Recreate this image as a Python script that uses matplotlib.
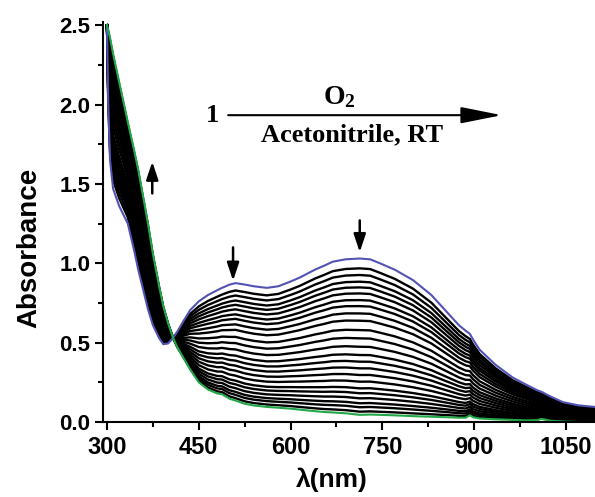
import numpy as np
import matplotlib
matplotlib.use("Agg")
import matplotlib.pyplot as plt
from matplotlib.ticker import MultipleLocator

# wavelength grid (nm) and the two end spectra
wavelengths = [300, 302, 305, 310, 320, 334, 345, 351, 360, 367, 375, 385, 392,
               400, 408, 415, 424, 436, 450, 465, 480, 488, 500, 510, 525, 540,
               561, 580, 600, 615, 640, 655, 669, 690, 713, 730, 746, 770, 800,
               830, 856, 875, 886, 893, 898, 909, 935, 963, 985, 1003, 1010,
               1025, 1045, 1070, 1097]

start_abs = [2.50, 2.00, 1.65, 1.47, 1.36, 1.25, 1.07, 0.96, 0.82, 0.71, 0.61,
             0.53, 0.49, 0.495, 0.53, 0.57, 0.63, 0.705, 0.76, 0.80, 0.83,
             0.845, 0.865, 0.875, 0.866, 0.855, 0.845, 0.855, 0.885, 0.91,
             0.96, 0.985, 1.01, 1.025, 1.03, 1.025, 1.00, 0.96, 0.894, 0.80,
             0.69, 0.61, 0.575, 0.555, 0.52, 0.455, 0.36, 0.28, 0.235, 0.20,
             0.19, 0.16, 0.125, 0.105, 0.095]

final_abs = [2.50, 2.47, 2.42, 2.32, 2.14, 1.89, 1.70, 1.59, 1.40, 1.25, 1.06,
             0.86, 0.73, 0.62, 0.53, 0.47, 0.41, 0.33, 0.25, 0.205, 0.18,
             0.175, 0.147, 0.135, 0.115, 0.104, 0.095, 0.09, 0.084, 0.078,
             0.068, 0.063, 0.06, 0.055, 0.045, 0.047, 0.045, 0.042, 0.037,
             0.033, 0.03, 0.027, 0.027, 0.042, 0.03, 0.022, 0.017, 0.013,
             0.01, 0.012, 0.02, 0.008, 0.003, 0.0, 0.0]

# absorbance of each intermediate trace at 713 nm, top to bottom
trace_713 = [0.968, 0.926, 0.884, 0.848, 0.810, 0.768, 0.730, 0.684, 0.638,
             0.579, 0.527, 0.474, 0.422, 0.380, 0.338, 0.296, 0.254, 0.212,
             0.181, 0.149, 0.118, 0.093, 0.065]

plt.rcParams["font.family"] = ["Liberation Sans", "DejaVu Sans"]
plt.rcParams["font.weight"] = "bold"
plt.rcParams["mathtext.fontset"] = "custom"
plt.rcParams["mathtext.rm"] = "Liberation Serif"
plt.rcParams["mathtext.bf"] = "Liberation Serif:bold"

wl = np.array(wavelengths)
a0 = np.array(start_abs)
a1 = np.array(final_abs)
i713 = wavelengths.index(713)

fig = plt.figure(figsize=(5.95, 4.97), dpi=100)
ax = fig.add_axes([103 / 595, 75 / 497, 492 / 595, 400 / 497])

for v in trace_713:
    frac = (v - a1[i713]) / (a0[i713] - a1[i713])
    ax.plot(wl, a1 + frac * (a0 - a1), color="black", lw=1.7)
ax.plot(wl, a0, color="#5252b4", lw=1.5)
ax.plot(wl, a1, color="#22a848", lw=1.5)

ax.set_xlim(293.5, 1097.4)
ax.set_ylim(0, 2.52)
ax.set_xticks([300, 450, 600, 750, 900, 1050])
ax.set_yticks([0.0, 0.5, 1.0, 1.5, 2.0, 2.5])
ax.yaxis.set_major_formatter(plt.FormatStrFormatter("%.1f"))
ax.xaxis.set_minor_locator(MultipleLocator(75))
ax.yaxis.set_minor_locator(MultipleLocator(0.25))
ax.spines["top"].set_visible(False)
ax.spines["right"].set_visible(False)
ax.spines["left"].set_linewidth(1.5)
ax.spines["bottom"].set_linewidth(1.5)
ax.tick_params(which="major", direction="out", length=6, width=1.5)
ax.tick_params(which="minor", direction="out", length=3.5, width=1.5)
ax.tick_params(axis="x", labelsize=17, pad=4)
ax.tick_params(axis="y", labelsize=16, pad=3)

ax.set_ylabel("Absorbance", fontsize=20, fontweight="bold")
ax.yaxis.set_label_coords(-0.124, 0.435)
ax.set_xlabel("λ(nm)", fontsize=19, fontweight="bold")
ax.xaxis.set_label_coords(0.465, -0.115)

# reaction scheme
serif = ["Liberation Serif", "DejaVu Serif"]
ax.text(471.6, 1.933, "1", family=serif, fontsize=19, fontweight="bold",
        ha="center", va="center")
ax.annotate("", xy=(945, 1.933), xytext=(498, 1.933),
            arrowprops=dict(arrowstyle="-|>,head_length=1.4,head_width=0.28",
                            lw=1.5, color="black", mutation_scale=18,
                            shrinkA=0, shrinkB=0))
ax.text(680, 2.045, r"$\mathbf{O_2}$", fontsize=20, ha="center", va="center")
ax.text(700, 1.81, "Acetonitrile, RT", family=serif, fontsize=19,
        fontweight="bold", ha="center", va="center")

# direction of change
for x0, y0, y1 in [(374, 1.44, 1.64), (506, 1.10, 0.89), (713, 1.27, 1.07)]:
    ax.annotate("", xy=(x0, y1), xytext=(x0, y0),
                arrowprops=dict(arrowstyle="-|>,head_length=0.9,head_width=0.3",
                                lw=1.8, color="black", mutation_scale=12,
                                shrinkA=0, shrinkB=0))

plt.savefig("out.png", dpi=100)
plt.close()
